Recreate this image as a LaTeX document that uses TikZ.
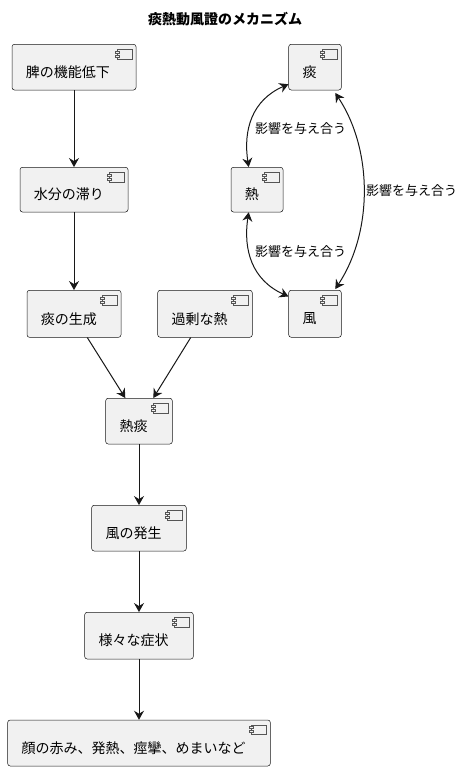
\documentclass[tikz,border=0pt]{standalone}
\usepackage{fontspec}
\setmainfont{Noto Sans CJK JP}
\usetikzlibrary{arrows.meta}
\definecolor{ink}{HTML}{181818}
\definecolor{iconink}{HTML}{555555}
\definecolor{boxfill}{HTML}{F1F1F1}
\tikzset{
  box/.style={draw=ink, line width=0.5pt, fill=boxfill, rounded corners=2.5pt, inner sep=0pt},
  lbl/.style={inner sep=0pt, text=black, font=\fontsize{14pt}{17pt}\selectfont},
  elbl/.style={inner sep=0pt, text=black, font=\fontsize{13pt}{16pt}\selectfont, anchor=west},
  icon/.style={draw=iconink, line width=0.5pt, fill=boxfill},
  flow/.style={draw=ink, line width=1pt, -{Stealth[length=9pt,width=10pt,inset=3pt]}},
  both/.style={draw=ink, line width=1pt, {Stealth[length=9pt,width=10pt,inset=3pt]}-{Stealth[length=9pt,width=10pt,inset=3pt]}},
}
\newcommand\compbox[6]{%
  \node[box, minimum width={(#4-#2)*1pt}, minimum height={(#5-#3)*1pt}] (#1) at ({(#2+#4)/2},{(#3+#5)/2}) {};
  \draw[icon] ([xshift=-19.3pt,yshift=-5.2pt]#1.north east) rectangle ([xshift=-4.3pt,yshift=-14.7pt]#1.north east);
  \draw[icon] ([xshift=-21.3pt,yshift=-6.7pt]#1.north east) rectangle ([xshift=-17.3pt,yshift=-8.7pt]#1.north east);
  \draw[icon] ([xshift=-21.3pt,yshift=-10.7pt]#1.north east) rectangle ([xshift=-17.3pt,yshift=-12.7pt]#1.north east);
  \node[lbl, anchor=west] (#1t) at ([xshift=14pt,yshift=-5pt]#1.west) {#6};
}
\begin{document}
\begin{tikzpicture}[x=1pt,y=-1pt]
\useasboundingbox (0,0) rectangle (464,771);
\fill[white] (0,0) rectangle (464,771);
\node[font=\fontsize{14pt}{17pt}\selectfont\bfseries, inner sep=0pt] (title) at (225,19) {痰熱動風證のメカニズム};

\compbox{hi}{12}{44.3}{136}{90}{脾の機能低下}
\compbox{sui}{20}{167.3}{128}{212}{水分の滞り}
\compbox{tan}{288.7}{44.3}{341.3}{90}{痰}
\compbox{netsu}{231}{167.3}{283}{212}{熱}
\compbox{tanseisei}{27}{290.3}{121}{337.3}{痰の生成}
\compbox{kajo}{157.7}{290.3}{252.3}{337.3}{過剰な熱}
\compbox{fu}{288.7}{290.3}{341.3}{337.3}{風}
\compbox{nettan}{105.7}{398.3}{172.3}{444}{熱痰}
\compbox{fuhassei}{91.7}{505.3}{186.3}{551}{風の発生}
\compbox{shojo}{84.7}{612.3}{193.3}{659}{様々な症状}
\compbox{kao}{7.7}{720}{270.3}{766}{顔の赤み、発熱、痙攣、めまいなど}

\draw[flow] (hi.south) -- (sui.north);
\draw[flow] (sui.south) -- (tanseisei.north);
\draw[flow] ([xshift=13.3pt]tanseisei.south) -- ([xshift=-13.7pt]nettan.north);
\draw[flow] ([xshift=-14.3pt]kajo.south) -- ([xshift=14.3pt]nettan.north);
\draw[flow] (nettan.south) -- (nettan.south |- fuhassei.north);
\draw[flow] (fuhassei.south) -- (fuhassei.south |- shojo.north);
\draw[flow] (shojo.south) -- (shojo.south |- kao.north);

\draw[both] ([xshift=-8.3pt]netsu.north) .. controls (243,130) and (252,100) .. ([yshift=6pt]tan.south west);
\draw[both] ([xshift=-8.3pt]netsu.south) .. controls (243,250) and (252,280) .. ([yshift=-6.4pt]fu.north west);
\draw[both] ([xshift=-6.3pt,yshift=-2.7pt]tan.south east) .. controls (373,150) and (373,232) .. ([xshift=-6.3pt,yshift=1pt]fu.north east);

\node[elbl] (l1) at (255,129) {影響を与え合う};
\node[elbl] (l2) at (255,251.7) {影響を与え合う};
\node[elbl] (l3) at (366,190.7) {影響を与え合う};
\end{tikzpicture}
\end{document}
